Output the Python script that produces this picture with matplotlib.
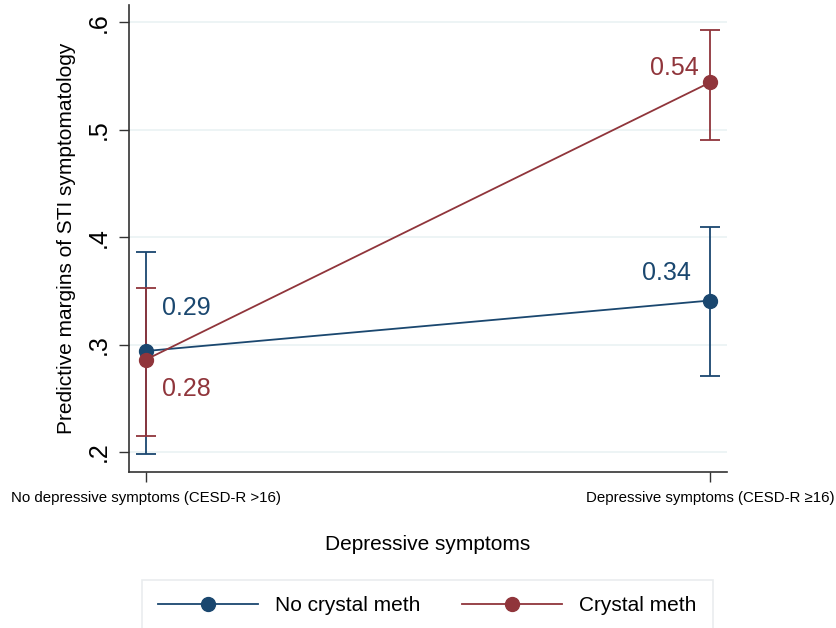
"""Predictive margins of STI symptomatology by depressive symptoms and crystal meth use."""
import matplotlib
matplotlib.use("Agg")
import matplotlib.pyplot as plt

plt.rcParams["font.family"] = ["Liberation Sans", "DejaVu Sans"]

categories = ["No depressive symptoms (CESD-R >16)", "Depressive symptoms (CESD-R \u226516)"]
series_names = ["No crystal meth", "Crystal meth"]
no_meth = [0.294, 0.341]
no_meth_lo = [0.198, 0.271]
no_meth_hi = [0.386, 0.409]
meth = [0.286, 0.544]
meth_lo = [0.215, 0.490]
meth_hi = [0.353, 0.593]
no_meth_labels = ["0.29", "0.34"]
meth_labels = ["0.28", "0.54"]

NAVY = "#1a476f"
MAROON = "#90353b"

fig = plt.figure(figsize=(8.36, 6.28), dpi=100)
ax = fig.add_axes([0.1543, 0.2484, 0.7154, 0.7436])

x = list(range(len(categories)))
series = [
    (no_meth, no_meth_lo, no_meth_hi, NAVY, series_names[0]),
    (meth, meth_lo, meth_hi, MAROON, series_names[1]),
]
handles = []
for vals, lo, hi, col, name in series:
    yerr = [[v - l for v, l in zip(vals, lo)], [h - v for v, h in zip(vals, hi)]]
    ax.errorbar(x, vals, yerr=yerr, fmt="none", ecolor=col, elinewidth=1.3,
                capsize=7, capthick=1.3, zorder=3)
    h, = ax.plot(x, vals, color=col, lw=1.3, marker="o", ms=10, zorder=4, label=name)
    handles.append(h)

# value labels
ax.text(x[0] + 0.028, no_meth[0] + 0.040, no_meth_labels[0], color=NAVY, fontsize=18,
        ha="left", va="center")
ax.text(x[0] + 0.028, meth[0] - 0.027, meth_labels[0], color=MAROON, fontsize=18,
        ha="left", va="center")
ax.text(x[1] - 0.034, no_meth[1] + 0.026, no_meth_labels[1], color=NAVY, fontsize=18,
        ha="right", va="center")
ax.text(x[1] - 0.021, meth[1] + 0.013, meth_labels[1], color=MAROON, fontsize=18,
        ha="right", va="center")

ax.set_xlim(-0.03, 1.03)
ax.set_ylim(0.1814, 0.616)
ax.set_yticks([0.2, 0.3, 0.4, 0.5, 0.6])
ax.set_yticklabels([".2", ".3", ".4", ".5", ".6"], rotation=90, va="center", fontsize=18)
ax.set_xticks(x)
ax.set_xticklabels(categories, fontsize=10.8)
ax.tick_params(axis="both", direction="out", length=7, width=1, color="#333333")
ax.tick_params(axis="x", pad=7)
ax.tick_params(axis="y", pad=6)
ax.grid(axis="y", color="#eaf2f3", lw=1.2)
ax.set_axisbelow(True)
for s in ["top", "right"]:
    ax.spines[s].set_visible(False)
for s in ["left", "bottom"]:
    ax.spines[s].set_color("#333333")
    ax.spines[s].set_linewidth(1.2)

ax.set_ylabel("Predictive margins of STI symptomatology", fontsize=15, labelpad=8)
ax.set_xlabel("Depressive symptoms", fontsize=15, labelpad=21)

leg = fig.legend(handles=handles, loc="upper center", bbox_to_anchor=(0.511, 0.077),
                 ncol=2, fontsize=15, frameon=True, fancybox=False,
                 handlelength=4.8, handletextpad=0.8, columnspacing=2.0, borderpad=0.8,
                 borderaxespad=0)
leg.get_frame().set_edgecolor("#e4e8ea")
leg.get_frame().set_linewidth(1.2)

fig.savefig("out.png", dpi=100)
